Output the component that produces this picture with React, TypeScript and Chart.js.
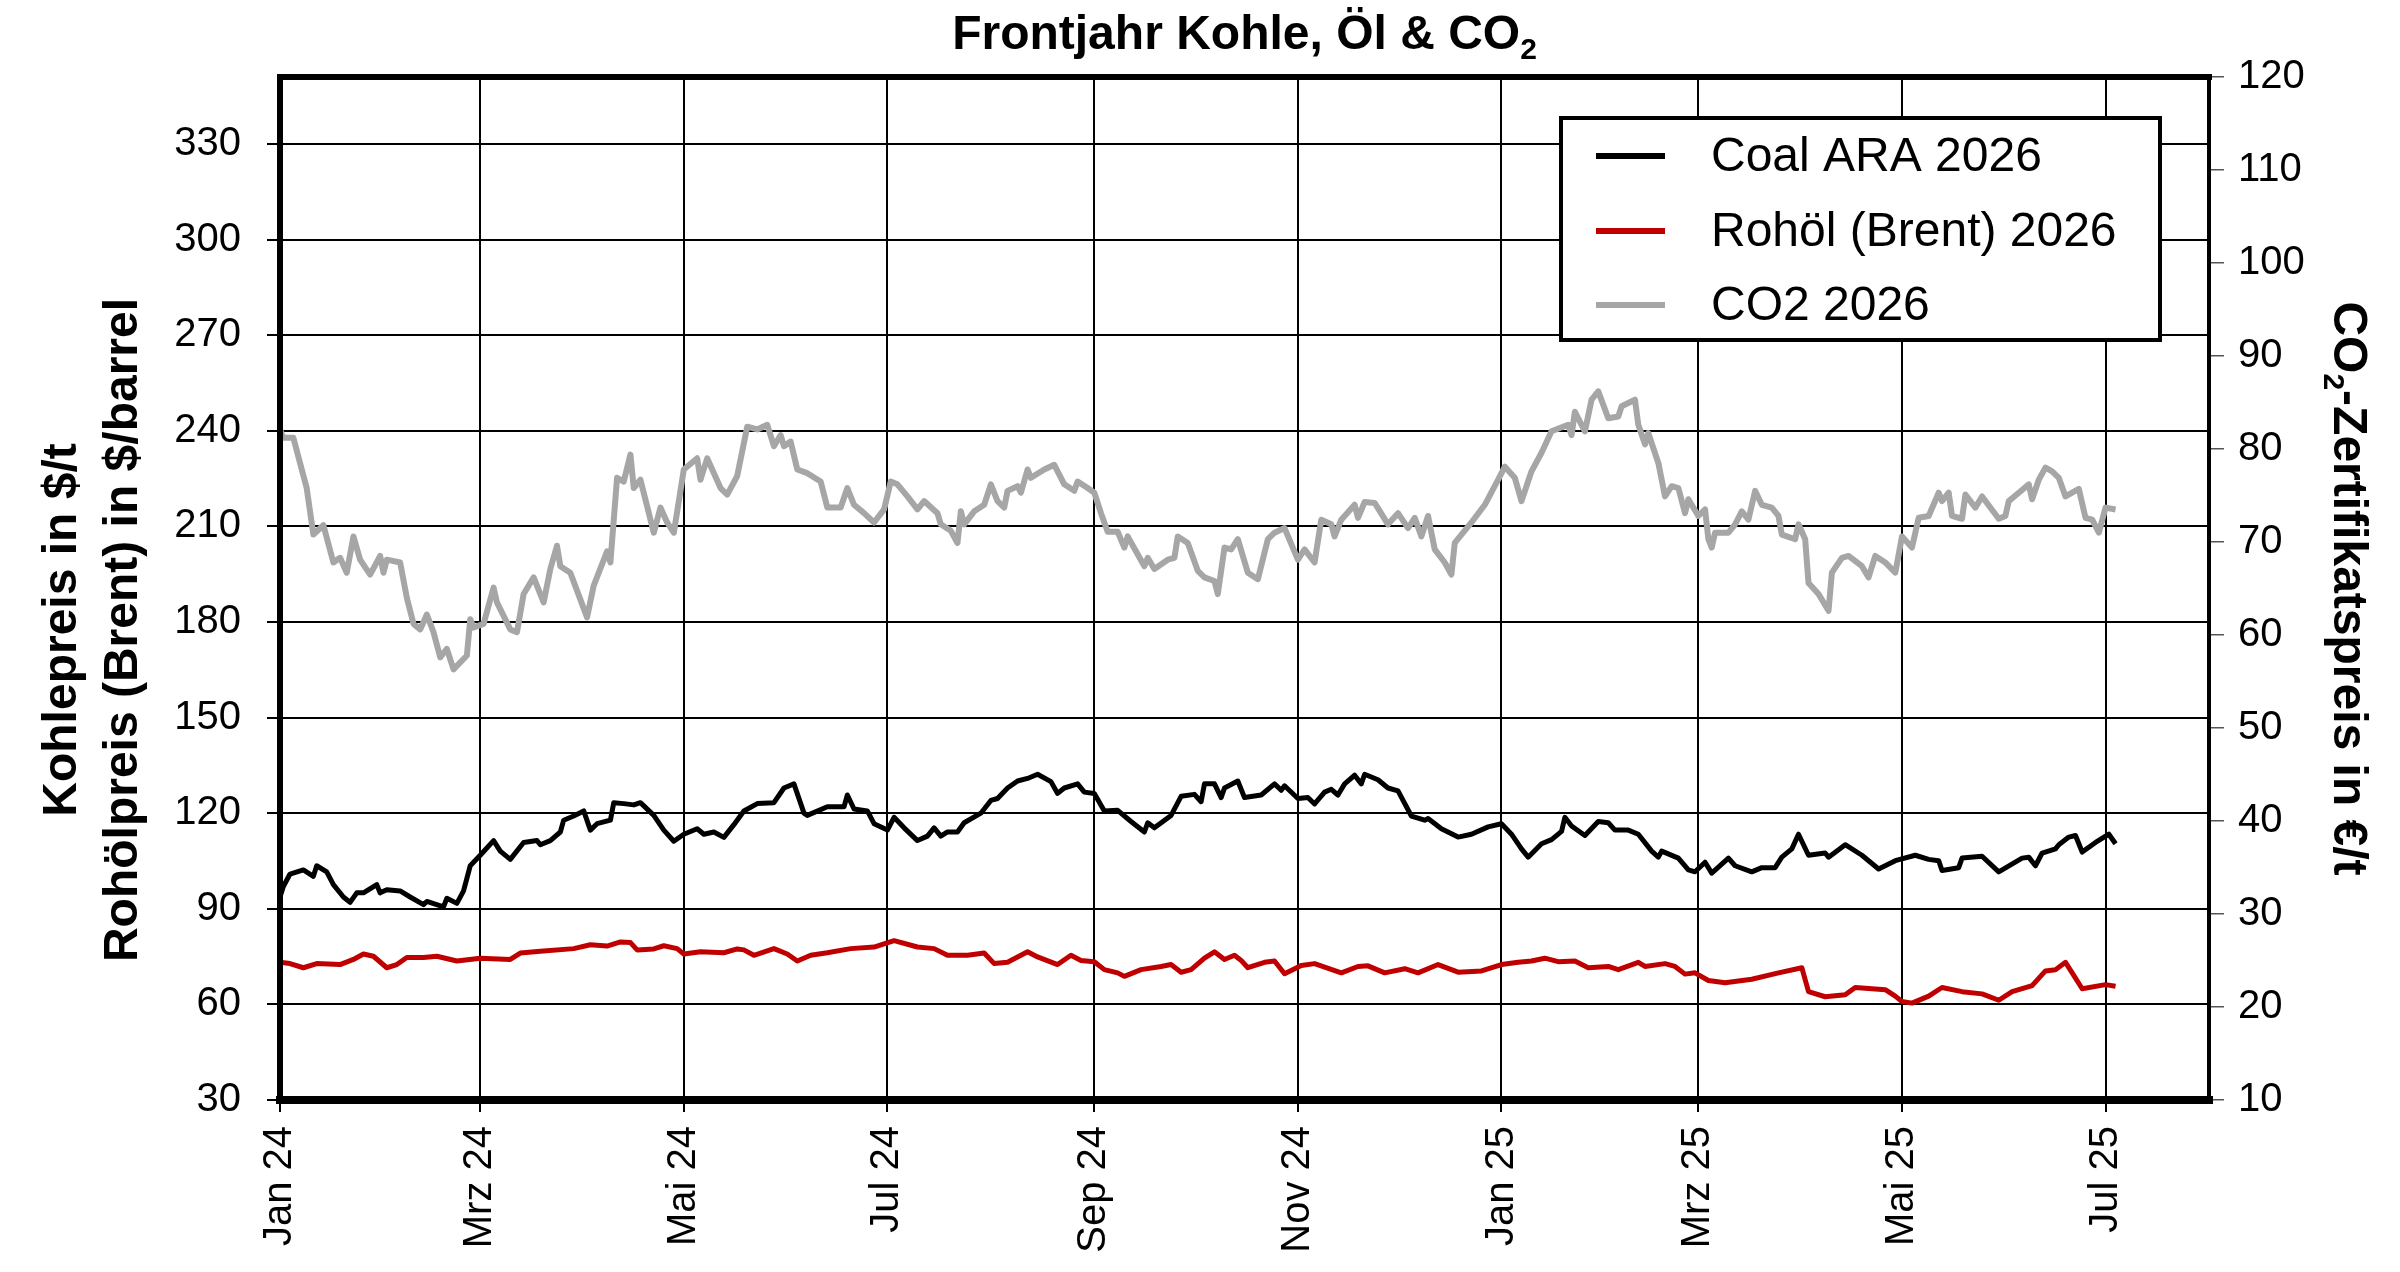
import React, { useEffect, useRef } from 'react';
import { Chart, registerables } from 'chart.js';

Chart.register(...registerables);

// x values are days counted from 1 Jan 2024
const monthTickDays = [0, 60, 121, 182, 244, 305, 366, 425, 486, 547];
const monthTickLabels = ['Jan 24', 'Mrz 24', 'Mai 24', 'Jul 24', 'Sep 24', 'Nov 24', 'Jan 25', 'Mrz 25', 'Mai 25', 'Jul 25'];
const leftTicks = [30, 60, 90, 120, 150, 180, 210, 240, 270, 300, 330];

const coalDays = [
  0, 1, 3, 7, 10, 11, 14, 16, 19, 21, 23, 25, 29, 30, 32, 36, 39, 43, 44, 49, 50, 53, 55, 57, 60, 64, 66, 69, 73, 77,
  78, 81, 84, 85, 88, 91, 93, 95, 99, 100, 103, 106, 108, 112, 115, 118, 121, 125, 127, 130, 133, 136, 139, 143,
  148, 151, 154, 157, 158, 164, 169, 170, 172, 176, 178, 182, 184, 187, 191, 194, 196, 198, 200, 203, 205, 210,
  213, 215, 218, 221, 224, 227, 231, 233, 235, 239, 241, 244, 247, 251, 255, 259, 260, 262, 267, 270, 274, 276,
  277, 280, 282, 283, 287, 289, 294, 298, 300, 301, 305, 308, 310, 313, 315, 317, 319, 322, 324, 325, 329, 332,
  335, 339, 343, 344, 348, 353, 357, 362, 366, 369, 372, 374, 378, 381, 384, 385, 387, 391, 395, 398, 400, 404,
  407, 411, 413, 414, 419, 422, 424, 427, 429, 434, 436, 441, 444, 448, 450, 453, 455, 458, 463, 464, 469, 474,
  479, 484, 490, 494, 497, 498, 503, 504, 510, 515, 522, 524, 526, 528, 532, 533, 536, 538, 540, 544, 548, 550,
];
const coalValues = [
  93.7, 97.0, 100.9, 102.2, 100.2, 103.5, 101.6, 97.6, 93.7, 92.0, 95.0, 95.0, 97.6, 95.0, 96.0, 95.6, 93.7, 91.3,
  92.3, 90.6, 93.3, 91.7, 95.6, 103.5, 106.8, 111.4, 108.1, 105.5, 110.8, 111.4, 110.1, 111.4, 114.1, 117.8, 119.1,
  120.7, 114.7, 116.7, 117.8, 123.3, 123.0, 122.6, 123.3, 119.3, 114.7, 111.2, 113.4, 115.1, 113.4, 114.1, 112.4,
  116.4, 120.7, 123.0, 123.3, 127.9, 129.2, 120.0, 119.3, 122.0, 122.0, 125.7, 121.3, 120.7, 116.7, 114.7, 118.7,
  115.4, 111.4, 112.8, 115.4, 112.8, 114.1, 114.1, 117.0, 120.0, 124.0, 124.6, 127.9, 130.1, 130.9, 132.2, 129.9,
  126.2, 127.9, 129.2, 126.6, 126.2, 120.7, 120.9, 117.4, 114.1, 117.0, 115.4, 119.3, 125.3, 125.9, 123.6, 129.2,
  129.2, 124.9, 127.9, 130.1, 124.9, 125.7, 129.2, 127.2, 128.6, 124.6, 124.9, 122.9, 126.6, 127.5, 125.7, 129.2,
  131.9, 129.2, 132.2, 130.5, 127.9, 127.0, 119.1, 117.8, 118.3, 115.1, 112.5, 113.4, 115.7, 116.7, 113.4, 108.8,
  106.2, 110.4, 111.7, 114.3, 118.7, 116.0, 113.0, 117.4, 117.0, 114.7, 114.7, 113.4, 108.1, 106.2, 108.1, 105.9,
  102.2, 101.6, 104.6, 101.2, 105.9, 103.5, 101.6, 102.9, 102.9, 106.2, 108.8, 113.4, 106.8, 107.5, 106.2, 110.1,
  106.8, 102.5, 105.1, 106.8, 105.5, 105.1, 102.0, 102.9, 105.9, 106.5, 101.6, 105.9, 106.2, 103.5, 107.5, 108.8,
  110.1, 112.5, 113.0, 107.8, 110.8, 113.4, 110.4,
];

const oilDays = [
  0, 3, 7, 11, 18, 22, 25, 28, 32, 35, 38, 43, 47, 53, 60, 69, 72, 78, 88, 93, 98, 102, 105, 107, 112, 115, 119,
  121, 126, 133, 137, 139, 142, 148, 152, 155, 159, 164, 171, 178, 184, 191, 196, 200, 206, 211, 214, 218, 224,
  227, 233, 237, 240, 244, 247, 251, 253, 258, 264, 267, 270, 273, 277, 280, 283, 286, 288, 290, 295, 298, 301,
  306, 310, 318, 323, 326, 331, 337, 341, 347, 353, 360, 366, 371, 375, 379, 383, 388, 392, 398, 401, 407, 409,
  415, 418, 421, 424, 428, 433, 441, 449, 456, 458, 463, 469, 472, 481, 484, 486, 489, 494, 498, 504, 510, 515,
  519, 525, 529, 532, 535, 537, 540, 547, 550,
];
const oilValues = [
  73.2, 72.8, 71.5, 72.8, 72.5, 74.1, 75.8, 75.1, 71.5, 72.5, 74.7, 74.7, 75.1, 73.6, 74.5, 74.1, 76.1, 76.7, 77.5,
  78.7, 78.3, 79.6, 79.4, 77.1, 77.4, 78.4, 77.5, 75.8, 76.5, 76.2, 77.4, 77.1, 75.4, 77.5, 75.8, 73.6, 75.4, 76.2,
  77.5, 78.0, 80.0, 78.0, 77.5, 75.4, 75.4, 76.1, 72.8, 73.2, 76.5, 74.9, 72.5, 75.4, 73.8, 73.4, 70.9, 69.9, 68.8,
  70.9, 71.9, 72.5, 70.1, 70.9, 74.5, 76.5, 74.1, 75.4, 73.8, 71.5, 73.2, 73.6, 69.6, 72.2, 72.8, 69.9, 71.9, 72.1,
  69.9, 71.2, 69.9, 72.5, 70.1, 70.5, 72.5, 73.2, 73.6, 74.5, 73.4, 73.6, 71.5, 71.9, 70.9, 73.2, 71.9, 72.8, 71.9,
  69.5, 69.9, 67.5, 66.8, 67.9, 69.9, 71.5, 64.0, 62.4, 63.0, 65.3, 64.6, 62.6, 60.9, 60.4, 62.6, 65.3, 64.0, 63.3,
  61.3, 64.0, 65.9, 70.5, 70.9, 73.2, 69.9, 64.9, 66.2, 65.7,
];

const co2Days = [
  0, 1, 4, 6, 8, 10, 13, 16, 18, 20, 22, 24, 27, 30, 31, 32, 36, 38, 40, 42, 44, 46, 48, 50, 52, 56, 57, 58, 61,
  64, 65, 69, 71, 73, 76, 79, 81, 83, 84, 87, 92, 94, 98, 99, 101, 103, 105, 106, 108, 112, 114, 116, 118, 121,
  125, 126, 128, 132, 134, 137, 140, 143, 146, 148, 150, 151, 153, 155, 158, 162, 164, 168, 170, 172, 175, 178,
  181, 183, 185, 188, 191, 193, 197, 198, 201, 203, 204, 205, 208, 211, 213, 215, 217, 218, 221, 222, 224, 225,
  229, 232, 235, 238, 239, 242, 244, 246, 248, 251, 253, 254, 259, 260, 262, 266, 268, 269, 272, 275, 277, 280,
  281, 283, 285, 287, 290, 293, 296, 298, 301, 305, 307, 310, 312, 315, 316, 318, 322, 323, 325, 328, 332, 335,
  338, 340, 342, 344, 346, 349, 351, 352, 357, 361, 365, 367, 370, 372, 375, 378, 381, 386, 387, 388, 391, 393,
  395, 398, 401, 402, 406, 407, 409, 410, 413, 415, 417, 419, 421, 422, 425, 427, 428, 429, 430, 434, 436, 438,
  440, 442, 444, 447, 449, 450, 454, 455, 457, 458, 461, 464, 465, 468, 470, 474, 476, 478, 481, 484, 486, 489,
  491, 494, 497, 498, 500, 501, 504, 505, 508, 510, 515, 517, 518, 521, 524, 525, 527, 529, 531, 533, 535, 539,
  541, 543, 545, 547, 550,
];
const co2Values = [
  82.1, 81.2, 81.2, 78.5, 75.8, 70.8, 71.8, 67.8, 68.3, 66.7, 70.6, 68.1, 66.5, 68.5, 66.7, 68.1, 67.8, 64.0, 61.2,
  60.6, 62.2, 60.3, 57.6, 58.5, 56.3, 57.8, 61.7, 60.8, 61.2, 65.1, 63.5, 60.6, 60.3, 64.4, 66.2, 63.5, 67.1, 69.6,
  67.4, 66.7, 61.9, 65.3, 69.0, 67.8, 76.9, 76.5, 79.4, 75.8, 76.7, 71.0, 73.7, 72.1, 71.0, 77.8, 79.0, 76.7, 79.0,
  75.8, 75.1, 77.1, 82.4, 82.1, 82.6, 80.3, 81.5, 80.3, 80.8, 77.8, 77.4, 76.5, 73.7, 73.7, 75.8, 74.0, 73.1, 72.1,
  73.5, 76.5, 76.2, 74.9, 73.5, 74.4, 73.1, 71.9, 71.2, 69.9, 73.3, 71.9, 73.3, 74.0, 76.2, 74.4, 73.7, 75.5, 76.0,
  75.3, 77.8, 76.9, 77.8, 78.3, 76.2, 75.5, 76.5, 75.8, 75.3, 73.1, 71.1, 71.1, 69.4, 70.6, 67.4, 68.3, 67.1, 68.1,
  68.3, 70.6, 69.9, 66.9, 66.2, 65.8, 64.4, 69.4, 69.2, 70.3, 66.7, 66.0, 70.3, 71.0, 71.5, 68.1, 69.2, 67.8, 72.4,
  71.9, 70.6, 72.4, 74.0, 72.6, 74.3, 74.2, 71.9, 73.1, 71.5, 72.6, 70.6, 72.8, 69.2, 67.8, 66.5, 69.9, 72.1, 74.0,
  76.7, 78.1, 76.9, 74.4, 77.6, 79.6, 81.9, 82.6, 81.5, 84.0, 81.9, 85.3, 86.2, 83.3, 83.5, 84.6, 85.3, 82.6, 80.5,
  81.7, 78.5, 74.9, 76.0, 75.8, 73.1, 74.6, 72.8, 73.5, 70.3, 69.4, 71.0, 71.0, 71.9, 73.3, 72.4, 75.5, 74.0, 73.7,
  72.8, 70.8, 70.3, 71.9, 70.3, 65.6, 64.4, 62.6, 66.7, 68.3, 68.5, 67.4, 66.2, 68.5, 67.8, 66.7, 70.6, 69.4, 72.6,
  72.8, 75.3, 74.4, 75.3, 72.8, 72.5, 75.1, 73.7, 74.9, 72.5, 72.8, 74.4, 75.3, 76.2, 74.6, 76.7, 78.0, 77.6, 76.9,
  74.9, 75.7, 72.6, 72.4, 71.0, 73.7, 73.5,
];

const seriesNames = ['Coal ARA 2026', 'Rohöl (Brent) 2026', 'CO2 2026'];
const seriesColors = ['#000000', '#C00000', '#A6A6A6'];

const FONT = '"Liberation Sans", Arial, sans-serif';

const toPoints = (days: number[], values: number[]) => days.map((d, i) => ({ x: d, y: values[i] }));

// title, axis titles, legend and the plot frame
const decorations = {
  id: 'decorations',
  afterDraw(chart: any) {
    const ctx = chart.ctx as CanvasRenderingContext2D;
    const { left, right, top, bottom } = chart.chartArea;
    ctx.save();
    ctx.fillStyle = '#000';
    ctx.strokeStyle = '#000';

    // frame
    ctx.lineCap = 'square';
    ctx.lineWidth = 6;
    ctx.beginPath();
    ctx.moveTo(left, top); ctx.lineTo(right, top);
    ctx.moveTo(left, top); ctx.lineTo(left, bottom);
    ctx.stroke();
    ctx.lineWidth = 8;
    ctx.beginPath();
    ctx.moveTo(left, bottom); ctx.lineTo(right, bottom);
    ctx.stroke();
    ctx.lineWidth = 4;
    ctx.beginPath();
    ctx.moveTo(right, top); ctx.lineTo(right, bottom);
    ctx.stroke();

    // text with subscript 2, centred on (0,0) of current transform
    const subText = (main: string, rest: string, size: number) => {
      ctx.font = `bold ${size}px ${FONT}`;
      const w1 = ctx.measureText(main).width;
      ctx.font = `bold ${Math.round(size * 0.62)}px ${FONT}`;
      const w2 = ctx.measureText('2').width;
      ctx.font = `bold ${size}px ${FONT}`;
      const w3 = ctx.measureText(rest).width;
      const start = -(w1 + w2 + w3) / 2;
      ctx.textAlign = 'left';
      ctx.textBaseline = 'alphabetic';
      ctx.fillText(main, start, 0);
      ctx.font = `bold ${Math.round(size * 0.62)}px ${FONT}`;
      ctx.fillText('2', start + w1, size * 0.2);
      ctx.font = `bold ${size}px ${FONT}`;
      ctx.fillText(rest, start + w1 + w2, 0);
    };

    // title
    ctx.save();
    ctx.translate((left + right) / 2, 49);
    subText('Frontjahr Kohle, Öl & CO', '', 48);
    ctx.restore();

    // right axis title
    ctx.save();
    ctx.translate(2334, (top + bottom) / 2);
    ctx.rotate(Math.PI / 2);
    subText('CO', '-Zertifikatspreis in €/t', 48);
    ctx.restore();

    // left axis titles
    ctx.save();
    ctx.font = `bold 48px ${FONT}`;
    ctx.textAlign = 'center';
    ctx.textBaseline = 'middle';
    ctx.translate(0, 630);
    ctx.rotate(-Math.PI / 2);
    ctx.fillText('Kohlepreis in $/t', 0, 63);
    ctx.fillText('Rohölpreis (Brent) in $/barrel', 0, 124);
    ctx.restore();

    // legend
    const bx = 1561, by = 118, bw = 599, bh = 222;
    ctx.fillStyle = '#fff';
    ctx.fillRect(bx, by, bw, bh);
    ctx.lineWidth = 4;
    ctx.strokeStyle = '#000';
    ctx.strokeRect(bx, by, bw, bh);
    const rows = [156, 231, 305];
    ctx.font = `48px ${FONT}`;
    ctx.textAlign = 'left';
    ctx.textBaseline = 'middle';
    seriesNames.forEach((name, i) => {
      ctx.strokeStyle = seriesColors[i];
      ctx.lineWidth = 6;
      ctx.lineCap = 'butt';
      ctx.beginPath();
      ctx.moveTo(1596, rows[i]);
      ctx.lineTo(1665, rows[i]);
      ctx.stroke();
      ctx.fillStyle = '#000';
      ctx.fillText(name, 1711, rows[i] + 2);
    });
    ctx.restore();
  },
};

export default function App() {
  const canvasRef = useRef<HTMLCanvasElement | null>(null);

  useEffect(() => {
    document.body.style.margin = '0';
    const ctx = canvasRef.current?.getContext('2d');
    if (!ctx) return;

    const chart = new Chart(ctx, {
      type: 'line',
      data: {
        datasets: [
          {
            label: seriesNames[2],
            data: toPoints(co2Days, co2Values),
            borderColor: seriesColors[2],
            borderWidth: 6,
            yAxisID: 'y2',
          },
          {
            label: seriesNames[1],
            data: toPoints(oilDays, oilValues),
            borderColor: seriesColors[1],
            borderWidth: 5,
            yAxisID: 'y',
          },
          {
            label: seriesNames[0],
            data: toPoints(coalDays, coalValues),
            borderColor: seriesColors[0],
            borderWidth: 5,
            yAxisID: 'y',
          },
        ],
      },
      options: {
        animation: false,
        responsive: false,
        devicePixelRatio: 1,
        layout: { padding: { top: 77, left: 0, right: 0, bottom: 0 } },
        elements: {
          point: { radius: 0 },
          line: { tension: 0, borderJoinStyle: 'round', fill: false },
        },
        plugins: {
          legend: { display: false },
          title: { display: false },
          tooltip: { enabled: false },
        },
        scales: {
          x: {
            type: 'linear',
            min: 0,
            max: 578,
            afterBuildTicks: (axis: any) => {
              axis.ticks = monthTickDays.map((v) => ({ value: v }));
            },
            afterFit: (axis: any) => {
              axis.height = 172;
            },
            ticks: {
              autoSkip: false,
              minRotation: 90,
              maxRotation: 90,
              padding: 14,
              color: '#000',
              font: { family: FONT, size: 40 },
              callback: (value: any) => {
                const i = monthTickDays.indexOf(Number(value));
                return i >= 0 ? monthTickLabels[i] : '';
              },
            },
            grid: { color: '#000', lineWidth: 2, tickLength: 12 },
            border: { display: false },
          },
          y: {
            position: 'left',
            min: 30,
            max: 351,
            afterBuildTicks: (axis: any) => {
              axis.ticks = leftTicks.map((v) => ({ value: v }));
            },
            afterFit: (axis: any) => {
              axis.width = 280;
            },
            ticks: {
              padding: 26,
              color: '#000',
              font: { family: FONT, size: 40 },
            },
            grid: { color: '#000', lineWidth: 2, tickLength: 13 },
            border: { display: false },
          },
          y2: {
            position: 'right',
            min: 10,
            max: 120,
            afterFit: (axis: any) => {
              axis.width = 191;
            },
            ticks: {
              stepSize: 10,
              padding: 14,
              color: '#000',
              font: { family: FONT, size: 40 },
            },
            grid: { drawOnChartArea: false, color: '#555', lineWidth: 1.5, tickLength: 15 },
            border: { display: false },
          },
        },
      },
      plugins: [decorations],
    });

    return () => {
      chart.destroy();
    };
  }, []);

  return (
    <canvas
      ref={canvasRef}
      width={2400}
      height={1272}
      style={{ display: 'block', width: '2400px', height: '1272px' }}
    />
  );
}
